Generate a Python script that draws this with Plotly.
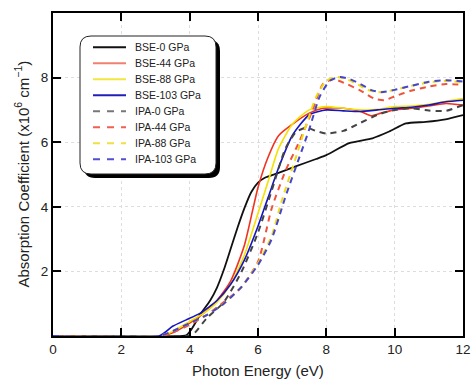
import plotly.graph_objects as go

# ---------------- data ----------------
names = ["BSE-0 GPa", "BSE-44 GPa", "BSE-88 GPa", "BSE-103 GPa",
         "IPA-0 GPa", "IPA-44 GPa", "IPA-88 GPa", "IPA-103 GPa"]

bse0_x = [0, 3.8, 3.9, 4.05, 4.3, 4.6, 4.8, 5.0, 5.2, 5.4, 5.6, 5.8, 6.0, 6.2, 6.6, 7.1, 7.7, 8.0, 8.67, 9.35, 9.84, 10.33, 10.91, 11.49, 12]
bse0_y = [0, 0, 0.02, 0.2, 0.65, 1.1, 1.5, 2.05, 2.7, 3.35, 3.95, 4.45, 4.75, 4.9, 5.05, 5.25, 5.48, 5.6, 5.97, 6.12, 6.33, 6.58, 6.63, 6.71, 6.84]

bse44_x = [0, 3.2, 3.6, 4.0, 4.4, 4.8, 5.2, 5.6, 6.0, 6.3, 6.6, 7.0, 7.5, 7.9, 8.5, 9.0, 9.3, 9.6, 10.0, 10.5, 11.0, 11.5, 12]
bse44_y = [0, 0, 0.15, 0.4, 0.7, 1.1, 1.7, 2.8, 4.6, 5.55, 6.2, 6.55, 6.9, 7.05, 7.05, 6.95, 6.82, 6.9, 7.0, 7.05, 7.12, 7.2, 7.15]

bse88_x = [0, 3.2, 3.6, 4.0, 4.4, 4.8, 5.2, 5.6, 6.0, 6.3, 6.6, 7.0, 7.5, 8.0, 8.5, 9.0, 9.5, 10.0, 10.5, 11.0, 11.5, 12]
bse88_y = [0, 0, 0.2, 0.45, 0.7, 1.05, 1.6, 2.5, 3.8, 4.8, 5.8, 6.55, 7.0, 7.1, 7.05, 7.0, 7.02, 7.1, 7.12, 7.17, 7.27, 7.35]

bse103_x = [0, 3.1, 3.5, 3.9, 4.3, 4.8, 5.2, 5.6, 6.0, 6.3, 6.6, 7.0, 7.5, 8.0, 8.5, 9.0, 9.5, 10.0, 10.5, 11.0, 11.5, 12]
bse103_y = [0, 0, 0.3, 0.5, 0.7, 1.1, 1.6, 2.35, 3.4, 4.3, 5.2, 6.2, 6.85, 7.0, 6.97, 6.95, 7.0, 7.05, 7.08, 7.15, 7.25, 7.3]

ipa0_x = [0, 3.9, 4.1, 4.5, 5.0, 5.5, 6.0, 6.4, 6.8, 7.1, 7.4, 7.7, 8.0, 8.5, 9.0, 9.5, 10.0, 10.5, 11.0, 11.5, 12]
ipa0_y = [0, 0, 0.05, 0.55, 1.05, 1.95, 3.2, 4.5, 5.8, 6.3, 6.45, 6.35, 6.27, 6.35, 6.6, 6.85, 7.0, 7.05, 6.98, 6.97, 7.15]

ipa44_x = [0, 3.2, 3.6, 4.0, 4.5, 5.0, 5.5, 6.0, 6.4, 6.8, 7.2, 7.6, 7.9, 8.2, 8.6, 9.0, 9.4, 9.7, 10.0, 10.5, 11.0, 11.5, 12]
ipa44_y = [0, 0, 0.15, 0.35, 0.65, 1.05, 1.5, 2.3, 3.95, 5.1, 6.0, 7.0, 7.8, 7.95, 7.8, 7.6, 7.35, 7.3, 7.42, 7.6, 7.72, 7.8, 7.78]

ipa88_x = [0, 3.1, 3.5, 4.0, 4.5, 5.0, 5.5, 6.0, 6.4, 6.7, 7.1, 7.4, 7.7, 8.0, 8.3, 8.6, 8.9, 9.2, 9.5, 10.0, 10.5, 11.0, 11.5, 12]
ipa88_y = [0, 0, 0.15, 0.4, 0.65, 1.0, 1.5, 2.25, 3.1, 4.2, 5.5, 6.5, 7.4, 7.9, 8.02, 7.95, 7.8, 7.62, 7.55, 7.62, 7.75, 7.85, 7.9, 7.85]

ipa103_x = [0, 3.1, 3.5, 4.0, 4.5, 5.0, 5.5, 6.0, 6.4, 6.8, 7.2, 7.5, 7.8, 8.1, 8.4, 8.7, 9.0, 9.3, 9.6, 10.0, 10.5, 11.0, 11.5, 12]
ipa103_y = [0, 0, 0.15, 0.4, 0.65, 1.0, 1.5, 2.2, 3.0, 4.3, 5.5, 6.4, 7.4, 7.9, 8.02, 7.95, 7.8, 7.62, 7.55, 7.62, 7.75, 7.87, 7.92, 7.88]

x_ticks = [0, 2, 4, 6, 8, 10, 12]
y_ticks = [2, 4, 6, 8]
x_title = "Photon Energy (eV)"
y_title = "Absorption Coefficient (x10<sup>6</sup> cm<sup>−1</sup>)"

series_x = [bse0_x, bse44_x, bse88_x, bse103_x, ipa0_x, ipa44_x, ipa88_x, ipa103_x]
series_y = [bse0_y, bse44_y, bse88_y, bse103_y, ipa0_y, ipa44_y, ipa88_y, ipa103_y]

# ---------------- styles ----------------
colors = ["#111111", "#f0321e", "#f5e000", "#1414c0",
          "#444444", "#f0523c", "#f0dc14", "#4646cc"]
legend_colors = ["#111111", "#f08070", "#f2e640", "#2020b8",
                 "#777777", "#f06050", "#f0e040", "#5050d0"]
dashes = ["solid"] * 4 + ["6px,5px"] * 4
widths = [1.8, 1.6, 1.6, 1.6, 2.0, 2.0, 2.0, 2.0]

W, H = 472, 380
L, R, T, B = 53, 9, 13, 44
PW, PH = W - L - R, H - T - B

def px(xp):
    return (xp - L) / PW

def py(yp):
    return (H - B - yp) / PH

FONT = "Liberation Sans, Arial, sans-serif"

fig = go.Figure()
for i in range(8):
    fig.add_trace(go.Scatter(
        x=series_x[i], y=series_y[i], mode="lines", name=names[i],
        line=dict(color=colors[i], width=widths[i], dash=dashes[i], shape="spline", smoothing=0.6),
        showlegend=False,
    ))

def rrect(x0, y0, x1, y1, r):
    rx, ry = r / PW, r / PH
    a0, a1 = px(x0), px(x1)
    b0, b1 = py(y0), py(y1)
    return (f"M{a0+rx},{b0} L{a1-rx},{b0} Q{a1},{b0} {a1},{b0-ry} "
            f"L{a1},{b1+ry} Q{a1},{b1} {a1-rx},{b1} L{a0+rx},{b1} "
            f"Q{a0},{b1} {a0},{b1+ry} L{a0},{b0-ry} Q{a0},{b0} {a0+rx},{b0} Z")

shapes = []
shapes.append(dict(type="path", xref="paper", yref="paper", layer="above",
                   path=rrect(84, 40, 220, 178, 11), fillcolor="#000000", line=dict(width=0)))
shapes.append(dict(type="path", xref="paper", yref="paper", layer="above",
                   path=rrect(80, 36, 216, 174, 11), fillcolor="#ffffff",
                   line=dict(color="#222222", width=1)))
annotations = []
for i in range(8):
    yc = 47.3 + 16 * i
    shapes.append(dict(type="line", xref="paper", yref="paper", layer="above",
                       x0=px(93), x1=px(126), y0=py(yc), y1=py(yc),
                       line=dict(color=legend_colors[i], width=2,
                                 dash="solid" if i < 4 else "7px,7px")))
    annotations.append(dict(xref="paper", yref="paper", x=px(133), y=py(yc),
                            xanchor="left", yanchor="middle", showarrow=False,
                            text=names[i], font=dict(family=FONT, size=10.5, color="#222222")))

# axis titles
annotations.append(dict(xref="paper", yref="paper", x=0.5, y=py(370.5),
                        xanchor="center", yanchor="middle", showarrow=False,
                        text=x_title, font=dict(family=FONT, size=15, color="#222222")))
annotations.append(dict(xref="paper", yref="paper", x=px(22), y=0.5, textangle=-90,
                        xanchor="center", yanchor="middle", showarrow=False,
                        text=y_title, font=dict(family=FONT, size=15, color="#222222")))

fig.update_layout(
    width=W, height=H,
    margin=dict(l=L, r=R, t=T, b=B, pad=0, autoexpand=False),
    paper_bgcolor="white", plot_bgcolor="white",
    font=dict(family=FONT, size=14, color="#222222"),
    shapes=shapes, annotations=annotations,
    showlegend=False,
)
axis_common = dict(
    ticks="inside", ticklen=8, tickwidth=2, tickcolor="#000",
    showline=True, linewidth=2, linecolor="#000", mirror="ticks",
    showgrid=True, gridcolor="#dddddd", griddash="dot", gridwidth=1, zeroline=False,
    tickfont=dict(size=13.5, family=FONT, color="#222"), automargin=False,
)
fig.update_xaxes(range=[0, 12], tickvals=x_ticks, **axis_common)
fig.update_yaxes(range=[0, 10], tickvals=y_ticks, **axis_common)

fig.write_html("out.html")
